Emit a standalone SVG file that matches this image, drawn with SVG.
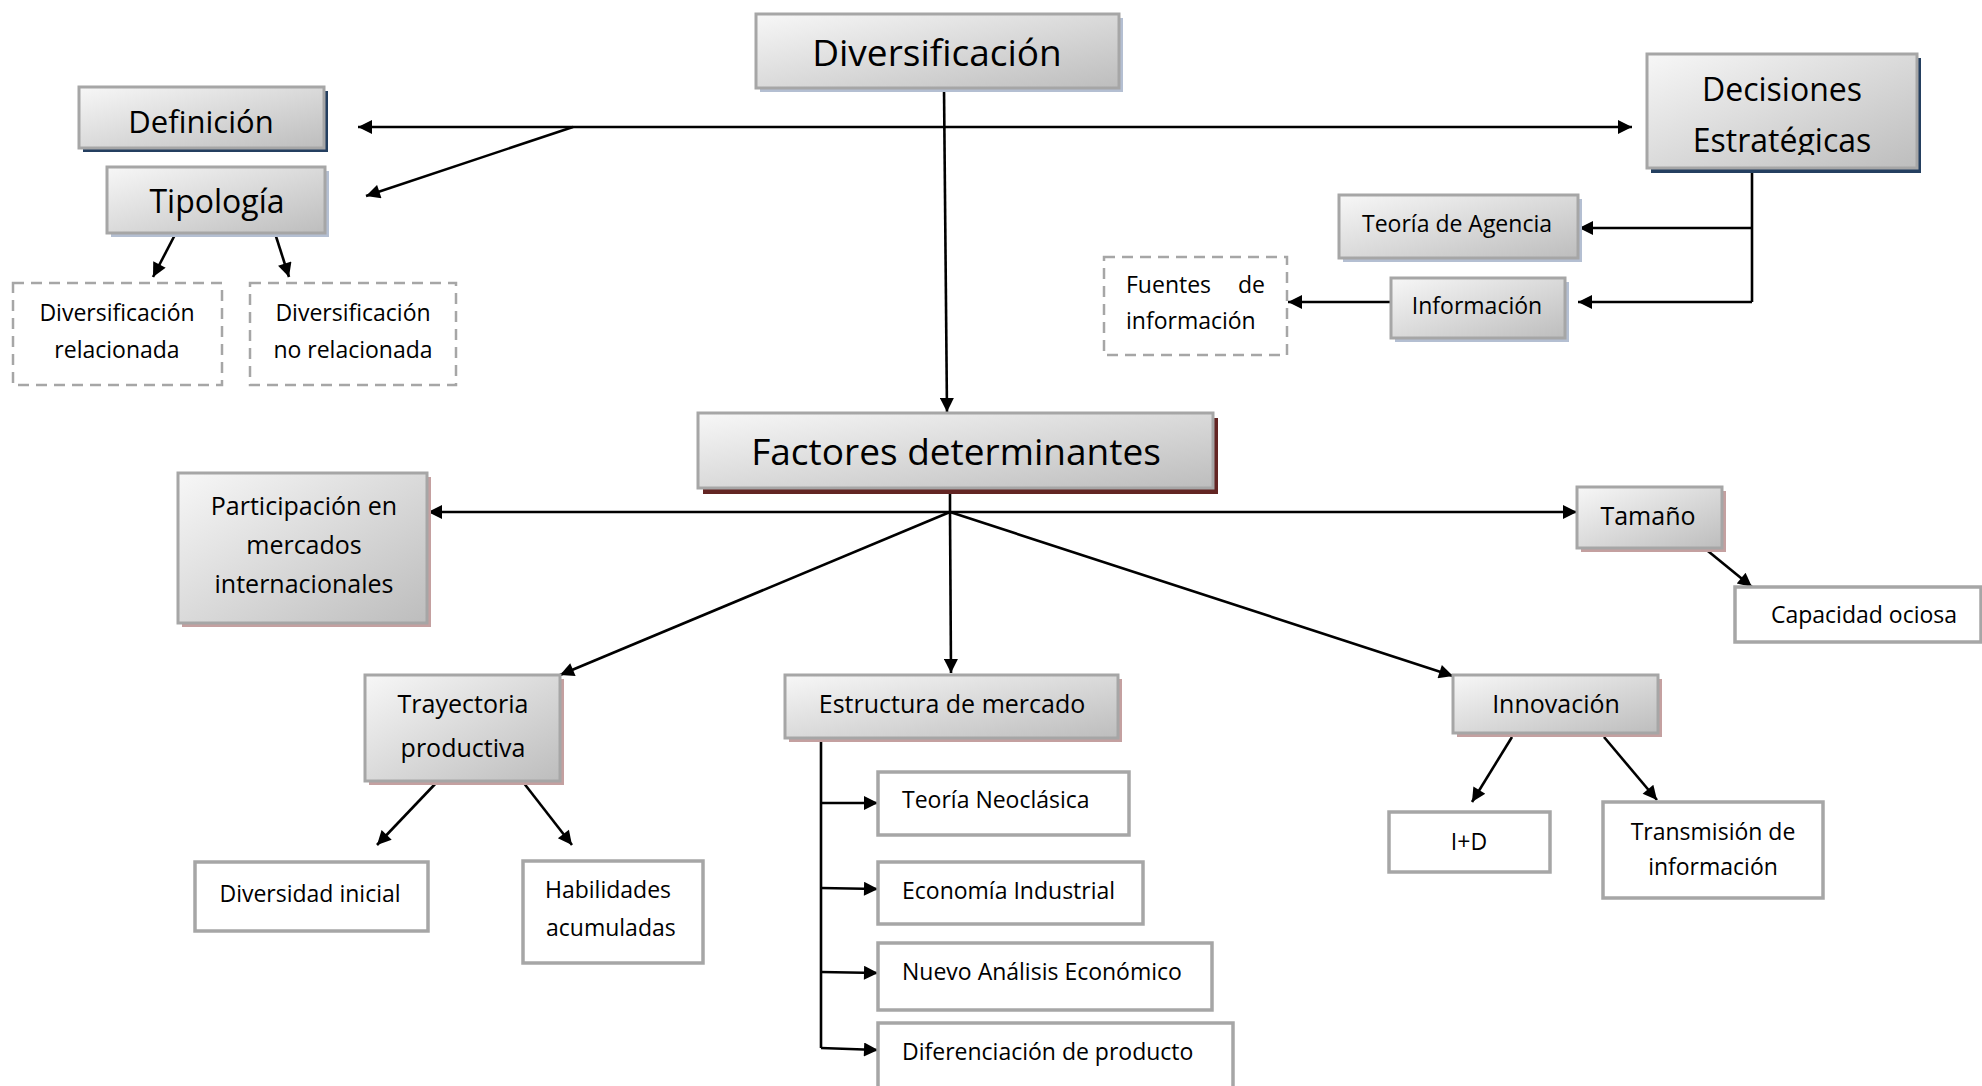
<svg xmlns="http://www.w3.org/2000/svg" width="1982" height="1086" viewBox="0 0 1982 1086">
<defs>
<linearGradient id="g" x1="0" y1="0" x2="1" y2="1">
<stop offset="0" stop-color="#f7f7f7"/>
<stop offset="1" stop-color="#bdbdbd"/>
</linearGradient>
<marker id="a" viewBox="0 0 10 10" refX="10" refY="5" markerUnits="userSpaceOnUse" markerWidth="17" markerHeight="14" orient="auto-start-reverse">
<path d="M0,0 L10,5 L0,10 z" fill="#000"/>
</marker>
<clipPath id="clipDec"><rect x="1640" y="50" width="290" height="105"/></clipPath>
</defs>
<style>
text{font-family:"Open Sans","Noto Sans","Liberation Sans",sans-serif;fill:#000}
.c{text-anchor:middle}
.box{fill:url(#g);stroke:#a6a6a6;stroke-width:3}
.plain{fill:#fff;stroke:#a6a6a6;stroke-width:3.5}
.dash{fill:#fff;stroke:#a6a6a6;stroke-width:2.5;stroke-dasharray:11 7}
.sh-blue{fill:#b4bfd2}
.sh-navy{fill:#243f60}
.sh-maroon{fill:#632523}
.sh-rose{fill:#c4a0a0}
.ln{fill:none;stroke:#000;stroke-width:2.6}
.ar{marker-end:url(#a)}
.ar2{marker-start:url(#a);marker-end:url(#a)}
</style>

<g id="connectors">
<line class="ln ar2" x1="358" y1="127" x2="1632" y2="127"/>
<line class="ln ar" x1="573" y1="127" x2="366" y2="196"/>
<line class="ln ar" x1="944" y1="88" x2="947" y2="412"/>
<line class="ln ar" x1="179" y1="227" x2="153" y2="277"/>
<line class="ln ar" x1="273" y1="227" x2="289" y2="277"/>
<polyline class="ln" points="1752,168 1752,302"/>
<line class="ln ar" x1="1752" y1="228" x2="1579" y2="228"/>
<line class="ln ar" x1="1752" y1="302" x2="1578" y2="302"/>
<line class="ln ar" x1="1391" y1="302" x2="1288" y2="302"/>
<line class="ln" x1="950" y1="490" x2="950" y2="512"/>
<line class="ln ar2" x1="428" y1="512" x2="1577" y2="512"/>
<line class="ln ar" x1="950" y1="512" x2="560" y2="675"/>
<line class="ln ar" x1="950" y1="512" x2="951" y2="673"/>
<line class="ln ar" x1="950" y1="512" x2="1453" y2="676"/>
<line class="ln ar" x1="1703" y1="547" x2="1752" y2="587"/>
<line class="ln ar" x1="437" y1="782" x2="377" y2="845"/>
<line class="ln ar" x1="523" y1="782" x2="572" y2="845"/>
<line class="ln" x1="821" y1="738" x2="821" y2="1048"/>
<line class="ln ar" x1="821" y1="803" x2="878" y2="803"/>
<line class="ln ar" x1="821" y1="888" x2="878" y2="889"/>
<line class="ln ar" x1="821" y1="972" x2="878" y2="973"/>
<line class="ln ar" x1="821" y1="1048" x2="878" y2="1050"/>
<line class="ln ar" x1="1512" y1="737" x2="1472" y2="802"/>
<line class="ln ar" x1="1604" y1="737" x2="1657" y2="800"/>
</g>

<g id="diversificacion">
<rect class="sh-blue" x="760" y="18" width="363" height="74"/>
<rect class="box" x="756" y="14" width="363" height="74"/>
<text class="c" x="937" y="66" font-size="37">Diversificación</text>
</g>

<g id="definicion">
<rect class="sh-navy" x="83" y="91" width="245" height="61"/>
<rect class="box" x="79" y="87" width="245" height="61"/>
<text class="c" x="201" y="133" font-size="31">Definición</text>
</g>

<g id="tipologia">
<rect class="sh-blue" x="111" y="171" width="218" height="66"/>
<rect class="box" x="107" y="167" width="218" height="66"/>
<text class="c" x="217" y="213" font-size="32">Tipología</text>
</g>

<g id="div-relacionada">
<rect class="dash" x="13" y="283" width="209" height="102"/>
<text class="c" x="117" y="321" font-size="23">Diversificación</text>
<text class="c" x="117" y="358" font-size="23">relacionada</text>
</g>

<g id="div-no-relacionada">
<rect class="dash" x="250" y="283" width="206" height="102"/>
<text class="c" x="353" y="321" font-size="23">Diversificación</text>
<text class="c" x="353" y="358" font-size="23">no relacionada</text>
</g>

<g id="decisiones">
<rect class="sh-navy" x="1651" y="58" width="270" height="115"/>
<rect class="box" x="1647" y="54" width="270" height="114"/>
<text class="c" x="1782" y="101" font-size="32">Decisiones</text>
<text class="c" x="1782" y="152" font-size="32" clip-path="url(#clipDec)">Estratégicas</text>
</g>

<g id="teoria-agencia">
<rect class="sh-blue" x="1343" y="199" width="239" height="63"/>
<rect class="box" x="1339" y="195" width="239" height="63"/>
<text class="c" x="1457" y="232" font-size="23">Teoría de Agencia</text>
</g>

<g id="informacion">
<rect class="sh-blue" x="1395" y="282" width="174" height="60"/>
<rect class="box" x="1391" y="278" width="174" height="60"/>
<text class="c" x="1477" y="314" font-size="23">Información</text>
</g>

<g id="fuentes">
<rect class="dash" x="1104" y="257" width="183" height="98"/>
<text x="1126" y="293" font-size="23">Fuentes</text>
<text x="1265" y="293" font-size="23" text-anchor="end">de</text>
<text x="1126" y="329" font-size="23">información</text>
</g>

<g id="factores">
<rect class="sh-maroon" x="703" y="418" width="515" height="76"/>
<rect class="box" x="698" y="413" width="515" height="75"/>
<text class="c" x="956" y="465" font-size="37">Factores determinantes</text>
</g>

<g id="participacion">
<rect class="sh-rose" x="182" y="477" width="249" height="150"/>
<rect class="box" x="178" y="473" width="249" height="150"/>
<text class="c" x="304" y="515" font-size="25">Participación en</text>
<text class="c" x="304" y="554" font-size="25">mercados</text>
<text class="c" x="304" y="593" font-size="25">internacionales</text>
</g>

<g id="tamano">
<rect class="sh-rose" x="1581" y="491" width="145" height="61"/>
<rect class="box" x="1577" y="487" width="145" height="61"/>
<text class="c" x="1648" y="525" font-size="25">Tamaño</text>
</g>

<g id="capacidad">
<rect class="plain" x="1735" y="587" width="246" height="55"/>
<text class="c" x="1864" y="623" font-size="23">Capacidad ociosa</text>
</g>

<g id="trayectoria">
<rect class="sh-rose" x="369" y="679" width="195" height="106"/>
<rect class="box" x="365" y="675" width="195" height="106"/>
<text class="c" x="463" y="713" font-size="25">Trayectoria</text>
<text class="c" x="463" y="757" font-size="25">productiva</text>
</g>

<g id="diversidad">
<rect class="plain" x="195" y="862" width="233" height="69"/>
<text class="c" x="310" y="902" font-size="23">Diversidad inicial</text>
</g>

<g id="habilidades">
<rect class="plain" x="523" y="861" width="180" height="102"/>
<text x="545" y="898" font-size="23">Habilidades</text>
<text x="546" y="936" font-size="23">acumuladas</text>
</g>

<g id="estructura">
<rect class="sh-rose" x="789" y="679" width="333" height="63"/>
<rect class="box" x="785" y="675" width="333" height="63"/>
<text class="c" x="952" y="713" font-size="25">Estructura de mercado</text>
</g>

<g id="neoclasica">
<rect class="plain" x="878" y="772" width="251" height="63"/>
<text x="902" y="808" font-size="23">Teoría Neoclásica</text>
</g>

<g id="economia">
<rect class="plain" x="878" y="862" width="265" height="62"/>
<text x="902" y="899" font-size="23">Economía Industrial</text>
</g>

<g id="nuevo">
<rect class="plain" x="878" y="943" width="334" height="67"/>
<text x="902" y="980" font-size="23">Nuevo Análisis Económico</text>
</g>

<g id="diferenciacion">
<rect class="plain" x="878" y="1023" width="355" height="80"/>
<text x="902" y="1060" font-size="23">Diferenciación de producto</text>
</g>

<g id="innovacion">
<rect class="sh-rose" x="1457" y="679" width="205" height="58"/>
<rect class="box" x="1453" y="675" width="205" height="58"/>
<text class="c" x="1556" y="713" font-size="25">Innovación</text>
</g>

<g id="id">
<rect class="plain" x="1389" y="812" width="161" height="60"/>
<text class="c" x="1469" y="850" font-size="23">I+D</text>
</g>

<g id="transmision">
<rect class="plain" x="1603" y="802" width="220" height="96"/>
<text class="c" x="1713" y="840" font-size="23">Transmisión de</text>
<text class="c" x="1713" y="875" font-size="23">información</text>
</g>
</svg>
